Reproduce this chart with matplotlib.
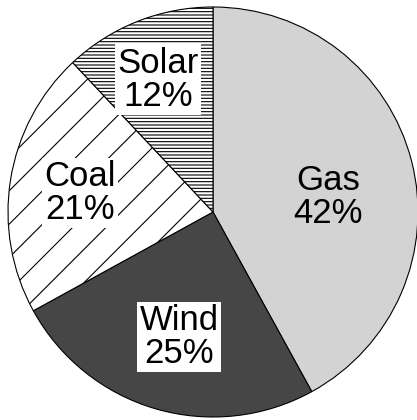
import numpy as np
import matplotlib
matplotlib.use("Agg")
import matplotlib.pyplot as plt

# data
sources = ["Gas", "Wind", "Coal", "Solar"]
shares = [42, 25, 21, 12]

# styling
fills = ["#d3d3d3", "#464646", "white", "white"]
hatches = [None, None, "/", "-----"]
boxed = [False, True, True, True]
label_r = [0.565, 0.63, 0.655, 0.70]
label_shift = [-7, 1, 1, 1]   # degrees, small nudges

plt.rcParams["font.family"] = ["Liberation Sans", "DejaVu Sans"]
plt.rcParams["hatch.linewidth"] = 0.8
plt.rcParams["hatch.color"] = "black"

fig = plt.figure(figsize=(4.17, 4.20), dpi=100)
ax = fig.add_axes([8 / 417, 3 / 420, 410 / 417, 410 / 420])

wedges, _ = ax.pie(shares, startangle=90, counterclock=False, colors=fills,
                   wedgeprops=dict(edgecolor="black", linewidth=0.8))
for w, h in zip(wedges, hatches):
    if h:
        w.set_hatch(h)

for w, name, pct, r, sh, bx in zip(wedges, sources, shares, label_r, label_shift, boxed):
    mid = np.deg2rad((w.theta1 + w.theta2) / 2 + sh)
    x, y = r * np.cos(mid), r * np.sin(mid)
    kw = {}
    if bx:
        kw["bbox"] = dict(facecolor="white", edgecolor="none", pad=1.5)
    ax.text(x, y, f"{name}\n{pct}%", ha="center", va="center", fontsize=25,
            linespacing=1.0, **kw)

ax.set_xlim(-1, 1)
ax.set_ylim(-1, 1)
ax.set_aspect("equal")
ax.axis("off")

fig.savefig("out.png", dpi=100)
